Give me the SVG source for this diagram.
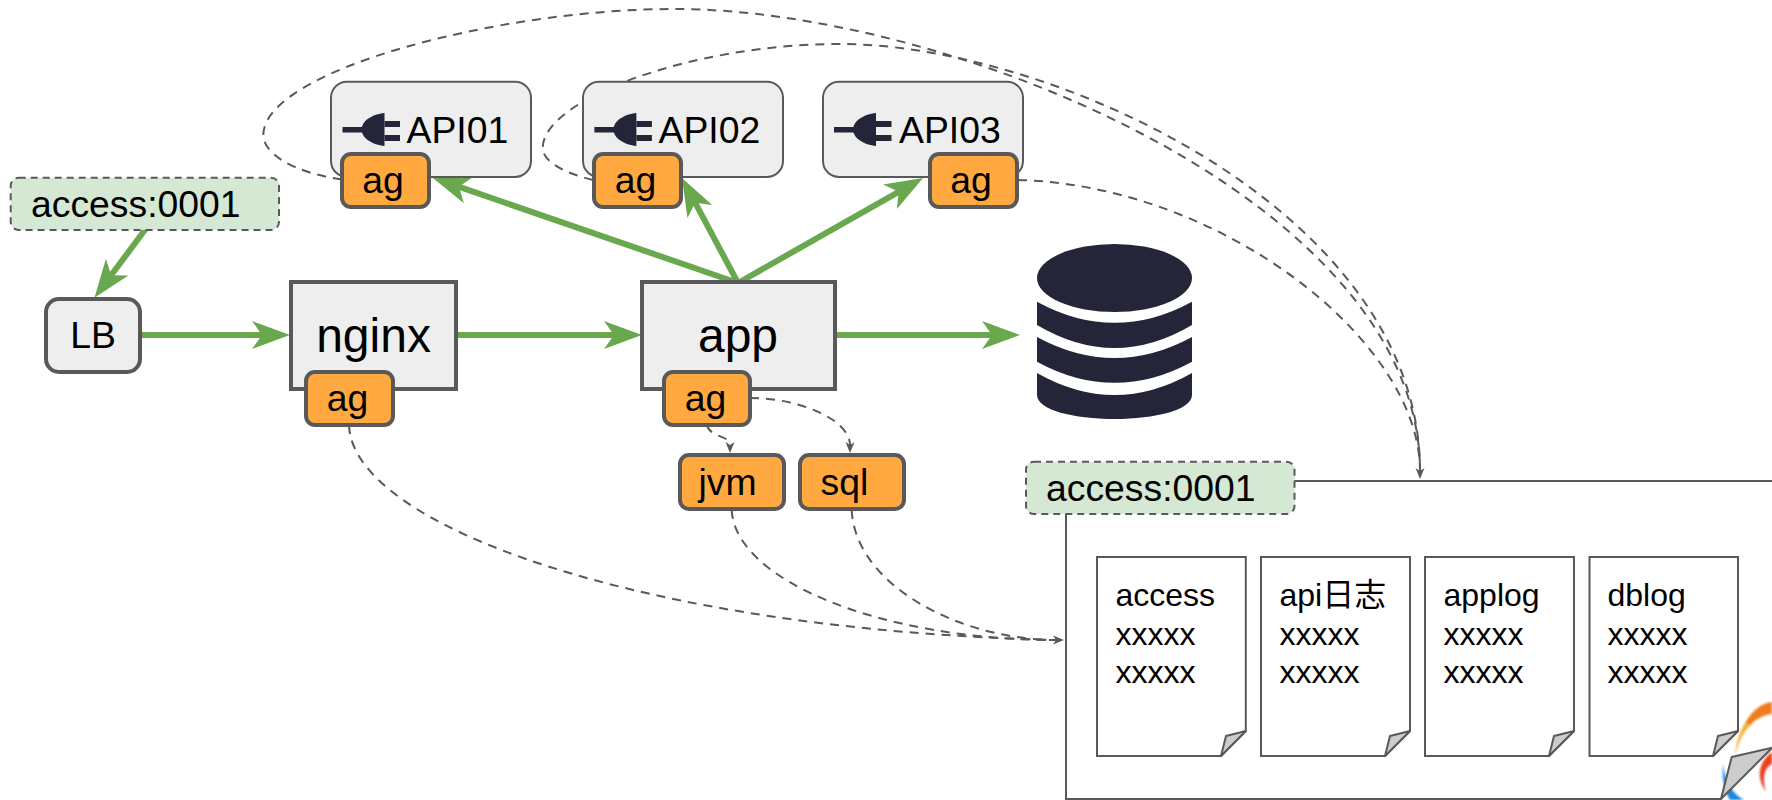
<svg xmlns="http://www.w3.org/2000/svg" width="1772" height="800" viewBox="0 0 1772 800">
<style>
text{font-family:"Liberation Sans","Noto Sans CJK SC",Arial,sans-serif;fill:#000}
.t36{font-size:37.33px}.t48{font-size:48px}.t32{font-size:32px}
.flow{fill:none;stroke:#6aa84f;stroke-width:6;marker-end:url(#gh)}
.dash{fill:none;stroke:#595959;stroke-width:2;stroke-dasharray:9 7}
.arr{marker-end:url(#dh)}
.tag{fill:#d5e8d4;stroke:#595959;stroke-width:2;stroke-dasharray:7 5}
.ag{fill:#ffa940;stroke:#595959;stroke-width:4}
.api{fill:#eeeeee;stroke:#595959;stroke-width:2}
.box{fill:#eeeeee;stroke:#595959;stroke-width:4}
.doc{fill:#fff;stroke:#595959;stroke-width:2}
.fold{fill:#cccccc;stroke:#595959;stroke-width:2;stroke-linejoin:round}
.dark{fill:#25253a}
</style>
<defs>
<marker id="gh" markerUnits="userSpaceOnUse" markerWidth="40" markerHeight="30" viewBox="0 0 40 30" refX="12" refY="15" orient="auto"><path d="M0,1 L38,15 L0,29 L10,15 Z" fill="#6aa84f"/></marker>
<marker id="dh" markerUnits="userSpaceOnUse" markerWidth="14" markerHeight="12" viewBox="0 0 14 12" refX="3" refY="6" orient="auto"><path d="M0,1.500 L11,6 L0,10.500 L3,6 Z" fill="#595959"/></marker>
<g id="plug"><path class="dark" d="M19,16.500 C19,8 30,1 42,0 V33 C30,32 19,25 19,16.500 Z"/><rect class="dark" x="0" y="14" width="22" height="5.500"/><rect class="dark" x="42" y="8" width="15.500" height="6"/><rect class="dark" x="42" y="22" width="15.500" height="6"/></g>
<filter id="soft" x="-30%" y="-30%" width="160%" height="160%"><feGaussianBlur stdDeviation="1.2"/></filter>
</defs>

<g id="logo" filter="url(#soft)">
<path d="M1772,702 C1755,704 1740,722 1735,755 C1741,730 1755,716 1772,714 Z" fill="#ef7d1a"/>
<path d="M1746,722 C1740,730 1736,742 1735,755 C1738,742 1743,732 1750,726 Z" fill="#f2b632"/>
<path d="M1772,752 C1758,762 1756,778 1766,792 C1762,778 1764,768 1772,764 Z" fill="#e8421a"/>
<path d="M1723,764 C1725,782 1733,794 1744,800 L1730,800 C1724,790 1722,778 1723,764 Z" fill="#1f86e0"/>
</g>

<g id="connectors">
<path class="dash" d="M342,179.500 C290,172 263,152 263.300,135 C264,70 500,9 674,9 C950,9 1420,200 1420,471"/>
<path class="dash" d="M593,180 C560,172 542.700,160 542.700,148 C542.700,100 690,44 840,44 C1050,44 1420,210 1420,471"/>
<path class="dash arr" d="M1018,180 C1220,185 1420,340 1420,471"/>
<path class="dash" d="M349,425 C352,525 640,630 1056,640"/>
<path class="dash" d="M731.700,510 C735,580 880,640 1056,640"/>
<path class="dash arr" d="M851.700,510 C855,585 960,640 1056,640"/>
<path class="dash arr" d="M707,425 C710,438 730,435 730,445"/>
<path class="dash arr" d="M750,398 C800,398 850,420 850,445"/>
<path class="flow" d="M145.400,229.300 L110,276.800"/>
<path class="flow" d="M140,335 H264"/>
<path class="flow" d="M456,335 H616"/>
<path class="flow" d="M835,335 H994"/>
<path class="flow" d="M738,283 L457.100,186.200"/>
<path class="flow" d="M738,283 L694.200,200.900"/>
<path class="flow" d="M738,283 L900.400,190.800"/>
</g>

<g id="log-note">
<path d="M1790,481 H1066 V799 H1721" fill="none" stroke="#595959" stroke-width="2"/>
<polygon class="fold" points="1721,799 1731.700,757 1775,747 1775,745"/>
</g>

<g id="doc-access"><path class="doc" d="M1097,557 H1245.800 V731 L1221,756 H1097 Z"/><path class="fold" d="M1221,756 L1226,736 L1245.800,731 Z"/><text class="t32" x="1115.500" y="606">access</text><text class="t32" x="1115.500" y="645">xxxxx</text><text class="t32" x="1115.500" y="683.300">xxxxx</text></g>
<g id="doc-api"><path class="doc" d="M1261,557 H1410 V731 L1385,756 H1261 Z"/><path class="fold" d="M1385,756 L1390,736 L1410,731 Z"/><text class="t32" x="1279.500" y="606">api日志</text><text class="t32" x="1279.500" y="645">xxxxx</text><text class="t32" x="1279.500" y="683.300">xxxxx</text></g>
<g id="doc-applog"><path class="doc" d="M1425,557 H1574 V731 L1549,756 H1425 Z"/><path class="fold" d="M1549,756 L1554,736 L1574,731 Z"/><text class="t32" x="1443.500" y="606">applog</text><text class="t32" x="1443.500" y="645">xxxxx</text><text class="t32" x="1443.500" y="683.300">xxxxx</text></g>
<g id="doc-dblog"><path class="doc" d="M1589.500,557 H1738 V731 L1713,756 H1589.500 Z"/><path class="fold" d="M1713,756 L1718,736 L1738,731 Z"/><text class="t32" x="1607.500" y="606">dblog</text><text class="t32" x="1607.500" y="645">xxxxx</text><text class="t32" x="1607.500" y="683.300">xxxxx</text></g>

<g id="tag-top"><rect class="tag" x="10.700" y="177.700" width="268.300" height="52.300" rx="8"/><text class="t36" x="31" y="216.700">access:0001</text></g>
<g id="tag-log"><rect class="tag" x="1026" y="461.700" width="268.500" height="52.300" rx="8"/><text class="t36" x="1046" y="501">access:0001</text></g>

<g id="lb"><rect class="box" x="46" y="299" width="94" height="73" rx="13"/><text class="t36" x="93" y="348" text-anchor="middle">LB</text></g>
<g id="nginx"><rect class="box" x="291" y="282" width="165" height="107"/><text class="t48" x="373.500" y="351.700" text-anchor="middle">nginx</text></g>
<g id="nginx-ag"><rect class="ag" x="306" y="372" width="87" height="53" rx="9"/><text class="t36" x="347.500" y="410.700" text-anchor="middle">ag</text></g>
<g id="app"><rect class="box" x="642" y="282" width="193" height="107"/><text class="t48" x="738" y="351.700" text-anchor="middle">app</text></g>
<g id="app-ag"><rect class="ag" x="664" y="372" width="86" height="53" rx="9"/><text class="t36" x="705.500" y="410.700" text-anchor="middle">ag</text></g>
<g id="jvm"><rect class="ag" x="680" y="455" width="104" height="54" rx="9"/><text class="t36" x="698.500" y="495">jvm</text></g>
<g id="sql"><rect class="ag" x="800" y="455" width="104" height="54" rx="9"/><text class="t36" x="820.500" y="495">sql</text></g>

<g id="api01"><rect class="api" x="331" y="81.700" width="200" height="95.300" rx="16"/><use href="#plug" x="342.500" y="113"/><text class="t36" x="406.500" y="143">API01</text></g>
<g id="api01-ag"><rect class="ag" x="342" y="154" width="87" height="53" rx="9"/><text class="t36" x="383" y="192.700" text-anchor="middle">ag</text></g>
<g id="api02"><rect class="api" x="583" y="81.700" width="200" height="95.300" rx="16"/><use href="#plug" x="594.400" y="113"/><text class="t36" x="658.500" y="143">API02</text></g>
<g id="api02-ag"><rect class="ag" x="594" y="154" width="87" height="53" rx="9"/><text class="t36" x="635.500" y="192.700" text-anchor="middle">ag</text></g>
<g id="api03"><rect class="api" x="823" y="81.700" width="200" height="95.300" rx="16"/><use href="#plug" x="834" y="113"/><text class="t36" x="899" y="143">API03</text></g>
<g id="api03-ag"><rect class="ag" x="930" y="154" width="87" height="53" rx="9"/><text class="t36" x="971" y="192.700" text-anchor="middle">ag</text></g>

<g id="database">
<ellipse class="dark" cx="1114.500" cy="278" rx="77.500" ry="34"/>
<path class="dark" d="M1037,301.700 Q1114.500,344 1192,301.700 V325 Q1114.500,371 1037,325 Z"/>
<path class="dark" d="M1037,337 Q1114.500,379 1192,337 V361.700 Q1114.500,404 1037,361.700 Z"/>
<path class="dark" d="M1037,373 Q1114.500,417 1192,373 V395 C1192,410 1155,419 1114.500,419 C1074,419 1037,410 1037,395 Z"/>
</g>
</svg>
